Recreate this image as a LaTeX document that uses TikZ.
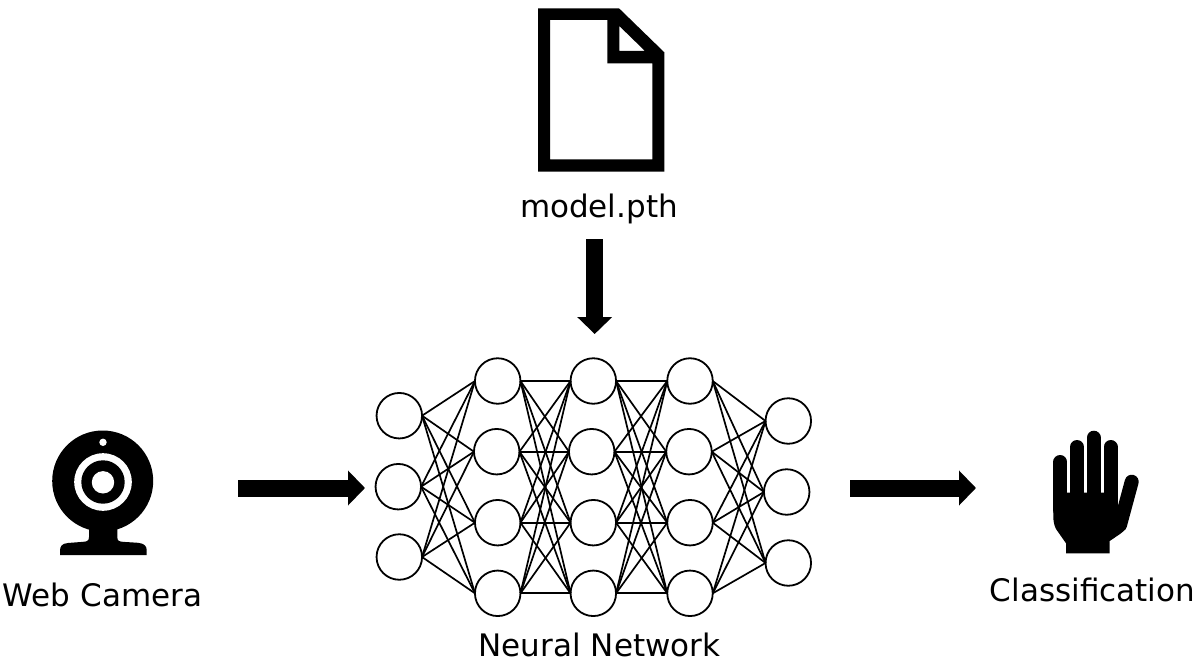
\documentclass[tikz,border=0pt]{standalone}
\usepackage{fontspec}
\setmainfont{DejaVu Sans}
\usetikzlibrary{arrows.meta}
\tikzset{
  neuron/.style={circle,draw=black,fill=white,line width=1.8pt,minimum size=45.5pt,inner sep=0pt,outer sep=0pt},
  synapse/.style={draw=black,line width=1.7pt},
  blockarrow/.style={draw=black,line width=17pt,-{Triangle[length=17pt,width=34pt]}},
  caption/.style={anchor=base,inner sep=0pt,font=\fontsize{31}{35}\selectfont,text=black},
  finger/.style={draw=black,line width=14pt,line cap=round}
}
\begin{document}
\begin{tikzpicture}[x=1pt,y=-1pt]
\useasboundingbox (0,0) rectangle (1196,663);
% network neurons
\foreach \n/\px/\py in {a1/399.3/415.7,a2/398.3/486.7,a3/399.3/557,
  b1/497.7/381,b2/496.7/451.7,b3/497.7/522.7,b4/497.7/593.3,
  c1/593.3/381,c2/591.7/451.7,c3/593.3/522.7,c4/593.3/593.3,
  d1/690/381,d2/689/451.7,d3/690/522.7,d4/690/593.3,
  e1/788.3/421,e2/786.7/492,e3/788.3/563}
  \node[neuron] (\n) at (\px,\py) {};
% connections
\foreach \i in {1,2,3}\foreach \j in {1,2,3,4}{
  \draw[synapse] (a\i.east) -- (b\j.west);
  \draw[synapse] (d\j.east) -- (e\i.west);
}
\foreach \i in {1,2,3,4}\foreach \j in {1,2,3,4}{
  \draw[synapse] (b\i.east) -- (c\j.west);
  \draw[synapse] (c\i.east) -- (d\j.west);
}
% document icon
\fill[black,even odd rule]
  (538,8.3) -- (619,8.3) -- (664.3,52.3) -- (664.3,171.7) -- (538,171.7) -- cycle
  (550,20) -- (607.3,20) -- (607.3,63.3) -- (652.3,63.3) -- (652.3,159.3) -- (550,159.3) -- cycle
  (619.3,26) -- (645,51) -- (619.3,51) -- cycle;
% web camera icon
\fill[black] (102.7,481) circle[radius=50.5];
\fill[black] (89,520) -- (117.3,520) -- (117.3,537)
  .. controls (117.3,541) and (119,541.7) .. (124,541.9)
  -- (138,542.8) .. controls (144,543.3) and (146.7,546) .. (146.7,550)
  -- (146.7,555) -- (60,555) -- (60,551)
  .. controls (60,546) and (62,543.5) .. (68,543)
  -- (82,541.9) .. controls (87,541.7) and (89,541) .. (89,537) -- cycle;
\fill[white] (103,482) circle[radius=28.8];
\fill[black] (103,482) circle[radius=21.7];
\fill[white] (103,482.3) circle[radius=11.2];
\fill[white] (103,442.3) circle[radius=3.7];
% hand icon
\draw[finger] (1060.3,462) -- (1060.3,510);
\draw[finger] (1077,447) -- (1077,510);
\draw[finger] (1093.7,437.7) -- (1093.7,510);
\draw[finger] (1110.5,447) -- (1110.5,510);
\draw[finger] (1131.7,481.7) -- (1120,525);
\fill[black] (1053.3,492.7) -- (1117.3,492.7) -- (1117.3,508)
  -- (1127,520) -- (1126.5,525) .. controls (1125,530) and (1124,531) .. (1120,534)
  -- (1109.7,541) -- (1109.7,553.3) -- (1066,553.3) -- (1066,543.3)
  -- (1056,529) .. controls (1054,525) and (1053.3,521) .. (1053.3,516) -- cycle;
% captions
\node[caption] (cam) at (102.5,606.7) {Web Camera};
\node[caption] (mod) at (599,218) {model.pth};
\node[caption] (net) at (599.5,656) {Neural Network};
\node[caption] (cls) at (1092.5,601.7) {Classification};
% block arrows
\coordinate (camout) at (238,488);
\coordinate (netin) at (365,488);
\coordinate (modout) at (594.7,239);
\coordinate (netup) at (594.7,334);
\coordinate (netout) at (850,488);
\coordinate (clsin) at (976,488);
\draw[blockarrow] (camout) -- (netin);
\draw[blockarrow] (modout) -- (netup);
\draw[blockarrow] (netout) -- (clsin);
\end{tikzpicture}
\end{document}
